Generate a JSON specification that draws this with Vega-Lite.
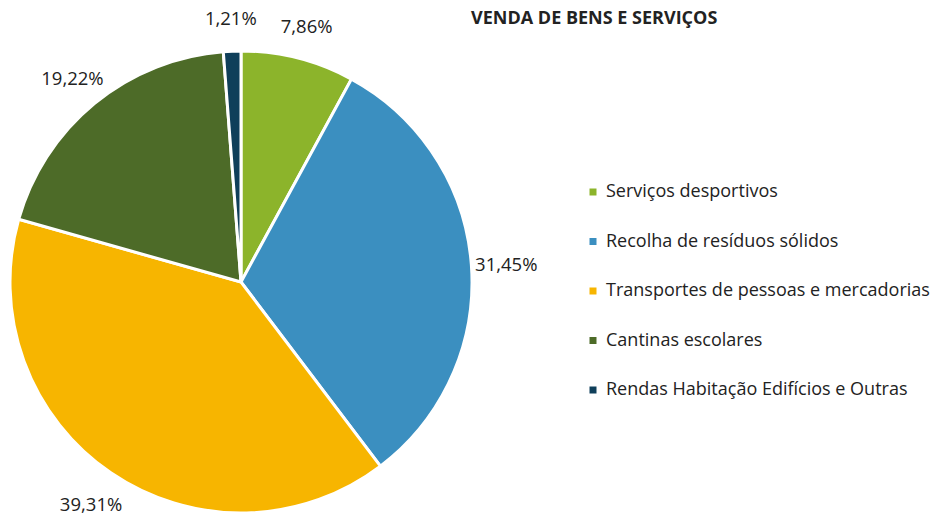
{
  "$schema": "https://vega.github.io/schema/vega-lite/v6.json",
  "width": 482,
  "height": 464,
  "autosize": {"type": "none"},
  "padding": {"left": 0, "top": 50, "right": 456, "bottom": 1},
  "background": "white",
  "title": {
    "text": "VENDA DE BENS E SERVIÇOS",
    "anchor": "start",
    "frame": "group",
    "dx": 471,
    "dy": 42,
    "offset": 24,
    "font": "Open Sans",
    "fontSize": 18,
    "fontWeight": "bold",
    "color": "#222222"
  },
  "data": {
    "values": [
      {"categoria": "Serviços desportivos", "valor": 7.86, "rotulo": "7,86%", "ordem": 1},
      {"categoria": "Recolha de resíduos sólidos", "valor": 31.45, "rotulo": "31,45%", "ordem": 2},
      {"categoria": "Transportes de pessoas e mercadorias", "valor": 39.31, "rotulo": "39,31%", "ordem": 3},
      {"categoria": "Cantinas escolares", "valor": 19.22, "rotulo": "19,22%", "ordem": 4},
      {"categoria": "Rendas Habitação Edifícios e Outras", "valor": 1.21, "rotulo": "1,21%", "ordem": 5}
    ]
  },
  "encoding": {
    "theta": {"field": "valor", "type": "quantitative", "stack": true},
    "order": {"field": "ordem", "type": "quantitative"}
  },
  "layer": [
    {
      "mark": {"type": "arc", "outerRadius": 231, "stroke": "white", "strokeWidth": 3},
      "encoding": {
        "color": {
          "field": "categoria",
          "type": "nominal",
          "sort": null,
          "scale": {
            "domain": ["Serviços desportivos", "Recolha de resíduos sólidos", "Transportes de pessoas e mercadorias", "Cantinas escolares", "Rendas Habitação Edifícios e Outras"],
            "range": ["#8cb42b", "#3b8fc0", "#f7b500", "#4d6b28", "#0f3f5a"]
          },
          "legend": {
            "title": null,
            "orient": "none",
            "legendX": 584,
            "legendY": 133,
            "symbolType": "square",
            "symbolSize": 49,
            "symbolStrokeWidth": 0,
            "labelFont": "Open Sans",
            "labelFontSize": 18,
            "labelColor": "#222222",
            "labelLimit": 400,
            "labelOffset": 4,
            "rowPadding": 31.5
          }
        }
      }
    },
    {
      "mark": {"type": "text", "radius": 266, "dy": 3, "font": "Open Sans", "fontSize": 18.5, "color": "#222222"},
      "encoding": {
        "text": {"field": "rotulo", "type": "nominal"}
      }
    }
  ]
}
